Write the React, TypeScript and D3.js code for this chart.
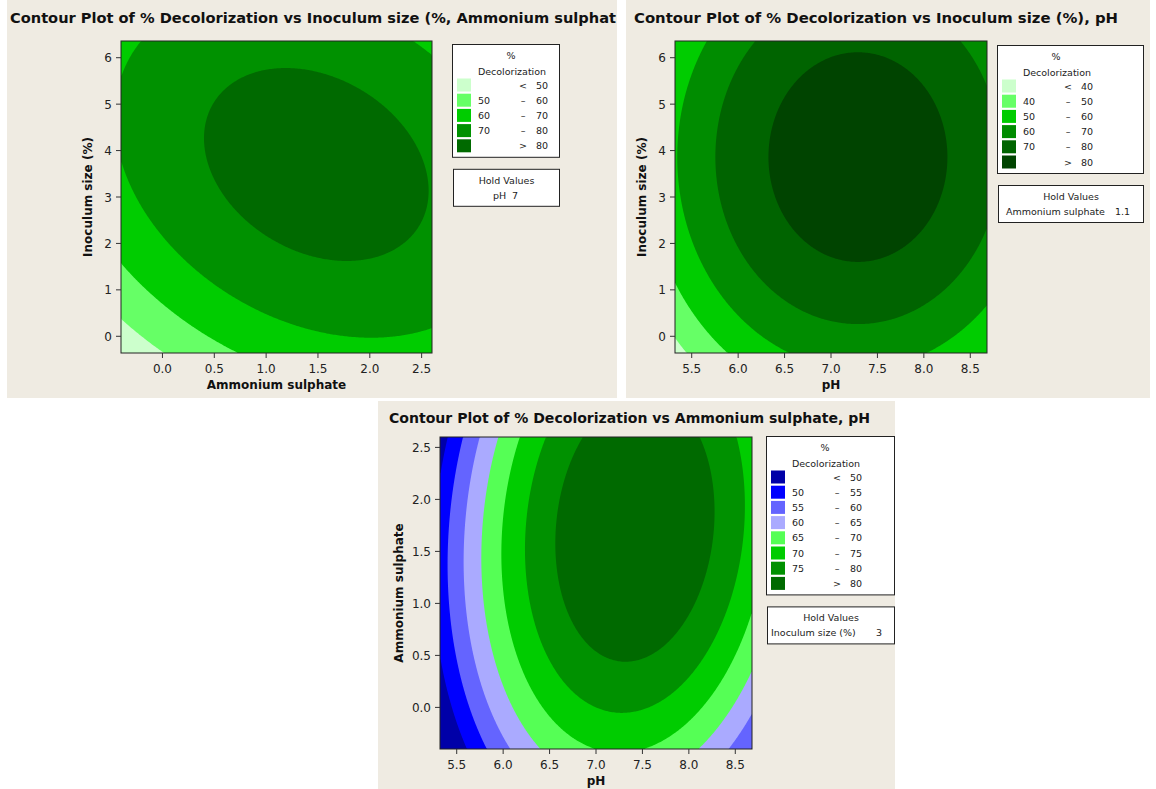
import { useEffect } from "react";
import * as d3 from "d3";

// factor ranges as plotted, and their coding (centre, unit) for the fitted model
const ammoniumDomain = [-0.4, 2.6];
const inoculumDomain = [-0.36, 6.36];
const phDomain = [5.32, 8.68];
const ammoniumCoding = [1.1, 0.893];
const inoculumCoding = [3, 2];
const phCoding = [7, 1];

const ammoniumTicks = [0, 0.5, 1, 1.5, 2, 2.5];
const inoculumTicks = [0, 1, 2, 3, 4, 5, 6];
const phTicks = [5.5, 6, 6.5, 7, 7.5, 8, 8.5];

// response surface coefficients, coded units: [b0, bx, by, bxx, byy, bxy]
const coefAmmInoc = [83.02, 3.573, 4.053, -3.3, -4.5, -2.1];
const coefPhInoc = [84.97, 4.06, 4.386, -7.0, -5.1, 0];
const coefPhAmm = [83.16, 5.624, 3.326, -7.6, -2.677, 1.064];

// contour levels and fill colours (lowest class first)
const levelsAmmInoc = [50, 60, 70, 80];
const colorsAmmInoc = ["#ccffcc", "#66ff66", "#00cc00", "#009100", "#006a00"];
const levelsPhInoc = [40, 50, 60, 70, 80];
const colorsPhInoc = ["#ccffcc", "#66ff66", "#00cc00", "#008c00", "#006400", "#004400"];
const levelsPhAmm = [50, 55, 60, 65, 70, 75, 80];
const colorsPhAmm = ["#0000a8", "#0000ff", "#6464ff", "#aaaaff", "#55ff55", "#00cc00", "#009100", "#006a00"];

const FONT = "'DejaVu Sans', Verdana, sans-serif";
const N = 220;

type Panel = {
  bg: number[];
  plot: { left: number; right: number; top: number; bottom: number };
  title: { text: string; x: number; y: number; len: number };
  xLabel: string;
  yLabel: string;
  yLabelX: number;
  xDomain: number[];
  yDomain: number[];
  xCoding: number[];
  yCoding: number[];
  xTicks: number[];
  yTicks: number[];
  xFmt: (v: number) => string;
  yFmt: (v: number) => string;
  coef: number[];
  levels: number[];
  colors: string[];
  legend: { x: number; y: number; w: number };
  hold: { label: string; value: string; labelOff: number; valueOff: number };
};

const f1 = d3.format(".1f");
const f0 = d3.format("d");

const panels: Panel[] = [
  {
    bg: [7, 0, 610, 398],
    plot: { left: 121, right: 432, top: 41, bottom: 353 },
    title: { text: "Contour Plot of % Decolorization vs Inoculum size (%, Ammonium sulphat", x: 10, y: 23, len: 606 },
    xLabel: "Ammonium sulphate",
    yLabel: "Inoculum size (%)",
    yLabelX: 92,
    xDomain: ammoniumDomain,
    yDomain: inoculumDomain,
    xCoding: ammoniumCoding,
    yCoding: inoculumCoding,
    xTicks: ammoniumTicks,
    yTicks: inoculumTicks,
    xFmt: f1,
    yFmt: f0,
    coef: coefAmmInoc,
    levels: levelsAmmInoc,
    colors: colorsAmmInoc,
    legend: { x: 452, y: 44, w: 107 },
    hold: { label: "pH", value: "7", labelOff: 41, valueOff: 41 },
  },
  {
    bg: [626, 0, 524, 398],
    plot: { left: 675, right: 987, top: 41, bottom: 353 },
    title: { text: "Contour Plot of % Decolorization vs Inoculum size (%), pH", x: 634, y: 23, len: 484 },
    xLabel: "pH",
    yLabel: "Inoculum size (%)",
    yLabelX: 646,
    xDomain: phDomain,
    yDomain: inoculumDomain,
    xCoding: phCoding,
    yCoding: inoculumCoding,
    xTicks: phTicks,
    yTicks: inoculumTicks,
    xFmt: f1,
    yFmt: f0,
    coef: coefPhInoc,
    levels: levelsPhInoc,
    colors: colorsPhInoc,
    legend: { x: 997, y: 45, w: 146 },
    hold: { label: "Ammonium sulphate", value: "1.1", labelOff: 9, valueOff: 13 },
  },
  {
    bg: [378, 401, 517, 388],
    plot: { left: 440, right: 752, top: 437, bottom: 749 },
    title: { text: "Contour Plot of % Decolorization vs Ammonium sulphate, pH", x: 389, y: 423, len: 481 },
    xLabel: "pH",
    yLabel: "Ammonium sulphate",
    yLabelX: 403,
    xDomain: phDomain,
    yDomain: ammoniumDomain,
    xCoding: phCoding,
    yCoding: ammoniumCoding,
    xTicks: phTicks,
    yTicks: [0, 0.5, 1, 1.5, 2, 2.5],
    xFmt: f1,
    yFmt: f1,
    coef: coefPhAmm,
    levels: levelsPhAmm,
    colors: colorsPhAmm,
    legend: { x: 766, y: 436, w: 128 },
    hold: { label: "Inoculum size (%)", value: "3", labelOff: 5, valueOff: 12 },
  },
];

function ContourPanel({ p, idx }: { p: Panel; idx: number }) {
  const { left, right, top, bottom } = p.plot;
  const x = d3.scaleLinear().domain(p.xDomain).range([left, right]);
  const y = d3.scaleLinear().domain(p.yDomain).range([bottom, top]);

  const [b0, bx, by, bxx, byy, bxy] = p.coef;
  const values: number[] = new Array(N * N);
  for (let j = 0; j < N; j++) {
    for (let i = 0; i < N; i++) {
      const xv = p.xDomain[0] + ((i + 0.5) / N) * (p.xDomain[1] - p.xDomain[0]);
      const yv = p.yDomain[0] + ((j + 0.5) / N) * (p.yDomain[1] - p.yDomain[0]);
      const u = (xv - p.xCoding[0]) / p.xCoding[1];
      const v = (yv - p.yCoding[0]) / p.yCoding[1];
      values[i + j * N] = b0 + bx * u + by * v + bxx * u * u + byy * v * v + bxy * u * v;
    }
  }
  const contours = d3.contours().size([N, N]).thresholds(p.levels)(values);
  const gx = d3.scaleLinear().domain([0, N]).range(p.xDomain);
  const gy = d3.scaleLinear().domain([0, N]).range(p.yDomain);
  const proj = d3.geoTransform({
    point(px: number, py: number) {
      (this as any).stream.point(x(gx(px)), y(gy(py)));
    },
  });
  const path = d3.geoPath(proj);

  const lg = p.legend;
  const n = p.colors.length;
  const rowH = 15.2;
  const boxH = 52 + (n - 1) * rowH;
  const sx = lg.x + 5;
  const holdY = lg.y + boxH + 12;
  const rows = p.colors.map((c, k) => {
    let lo = "";
    let op = "–";
    let hi = "";
    if (k === 0) {
      op = "<";
      hi = String(p.levels[0]);
    } else if (k === n - 1) {
      op = ">";
      hi = String(p.levels[n - 2]);
    } else {
      lo = String(p.levels[k - 1]);
      hi = String(p.levels[k]);
    }
    return { c, lo, op, hi };
  });

  const cx = (left + right) / 2;
  const cy = (top + bottom) / 2;

  return (
    <g>
      <rect x={p.bg[0]} y={p.bg[1]} width={p.bg[2]} height={p.bg[3]} fill="#efebe2" />
      <text
        x={p.title.x}
        y={p.title.y}
        fontFamily={FONT}
        fontWeight="bold"
        fontSize={14.5}
        fill="#111"
        textLength={p.title.len}
        lengthAdjust="spacingAndGlyphs"
      >
        {p.title.text}
      </text>

      <defs>
        <clipPath id={`clip${idx}`}>
          <rect x={left} y={top} width={right - left} height={bottom - top} />
        </clipPath>
      </defs>
      <g clipPath={`url(#clip${idx})`}>
        <rect x={left} y={top} width={right - left} height={bottom - top} fill={p.colors[0]} />
        {contours.map((c, k) => (
          <path key={k} d={path(c as any) || ""} fill={p.colors[k + 1]} stroke="none" />
        ))}
      </g>
      <rect x={left} y={top} width={right - left} height={bottom - top} fill="none" stroke="#222" strokeWidth={1} />

      {p.xTicks.map((t) => (
        <g key={`x${t}`}>
          <line x1={x(t)} x2={x(t)} y1={bottom} y2={bottom + 5} stroke="#333" />
          <text x={x(t)} y={bottom + 20} textAnchor="middle" fontFamily={FONT} fontSize={12} fill="#222">
            {p.xFmt(t)}
          </text>
        </g>
      ))}
      {p.yTicks.map((t) => (
        <g key={`y${t}`}>
          <line x1={left - 5} x2={left} y1={y(t)} y2={y(t)} stroke="#333" />
          <text x={left - 9} y={y(t) + 4.5} textAnchor="end" fontFamily={FONT} fontSize={12} fill="#222">
            {p.yFmt(t)}
          </text>
        </g>
      ))}
      <text x={cx} y={bottom + 36} textAnchor="middle" fontFamily={FONT} fontWeight="bold" fontSize={12} fill="#111">
        {p.xLabel}
      </text>
      <text
        transform={`translate(${p.yLabelX},${cy}) rotate(-90)`}
        textAnchor="middle"
        fontFamily={FONT}
        fontWeight="bold"
        fontSize={12}
        fill="#111"
      >
        {p.yLabel}
      </text>

      {/* legend */}
      <rect x={lg.x + 0.5} y={lg.y + 0.5} width={lg.w} height={boxH} fill="#fff" stroke="#222" />
      <text x={sx + 54} y={lg.y + 14.5} textAnchor="middle" fontFamily={FONT} fontSize={9.5} fill="#222">
        %
      </text>
      <text x={sx + 55} y={lg.y + 31} textAnchor="middle" fontFamily={FONT} fontSize={9.5} fill="#222">
        Decolorization
      </text>
      {rows.map((r, k) => {
        const ry = lg.y + 41 + k * rowH;
        return (
          <g key={k} fontFamily={FONT} fontSize={9.5} fill="#222">
            <rect x={sx} y={ry - 6.5} width={14} height={13} fill={r.c} />
            <text x={sx + 21} y={ry + 3.5}>{r.lo}</text>
            <text x={sx + 66} y={ry + 3.5} textAnchor="middle">{r.op}</text>
            <text x={sx + 91} y={ry + 3.5} textAnchor="end">{r.hi}</text>
          </g>
        );
      })}

      <rect x={lg.x + 1.5} y={holdY + 0.5} width={lg.w - 1} height={37} fill="#fff" stroke="#222" />
      <g fontFamily={FONT} fontSize={9.5} fill="#222">
        <text x={lg.x + 1 + lg.w / 2} y={holdY + 15} textAnchor="middle">Hold Values</text>
        <text x={lg.x + p.hold.labelOff} y={holdY + 30}>{p.hold.label}</text>
        <text x={lg.x + lg.w - p.hold.valueOff} y={holdY + 30} textAnchor="end">{p.hold.value}</text>
      </g>
    </g>
  );
}

export default function App() {
  useEffect(() => {
    document.body.style.margin = "0";
  }, []);
  return (
    <svg width={1156} height={789} style={{ display: "block", background: "#fff" }}>
      {panels.map((p, i) => (
        <ContourPanel key={i} p={p} idx={i} />
      ))}
    </svg>
  );
}
